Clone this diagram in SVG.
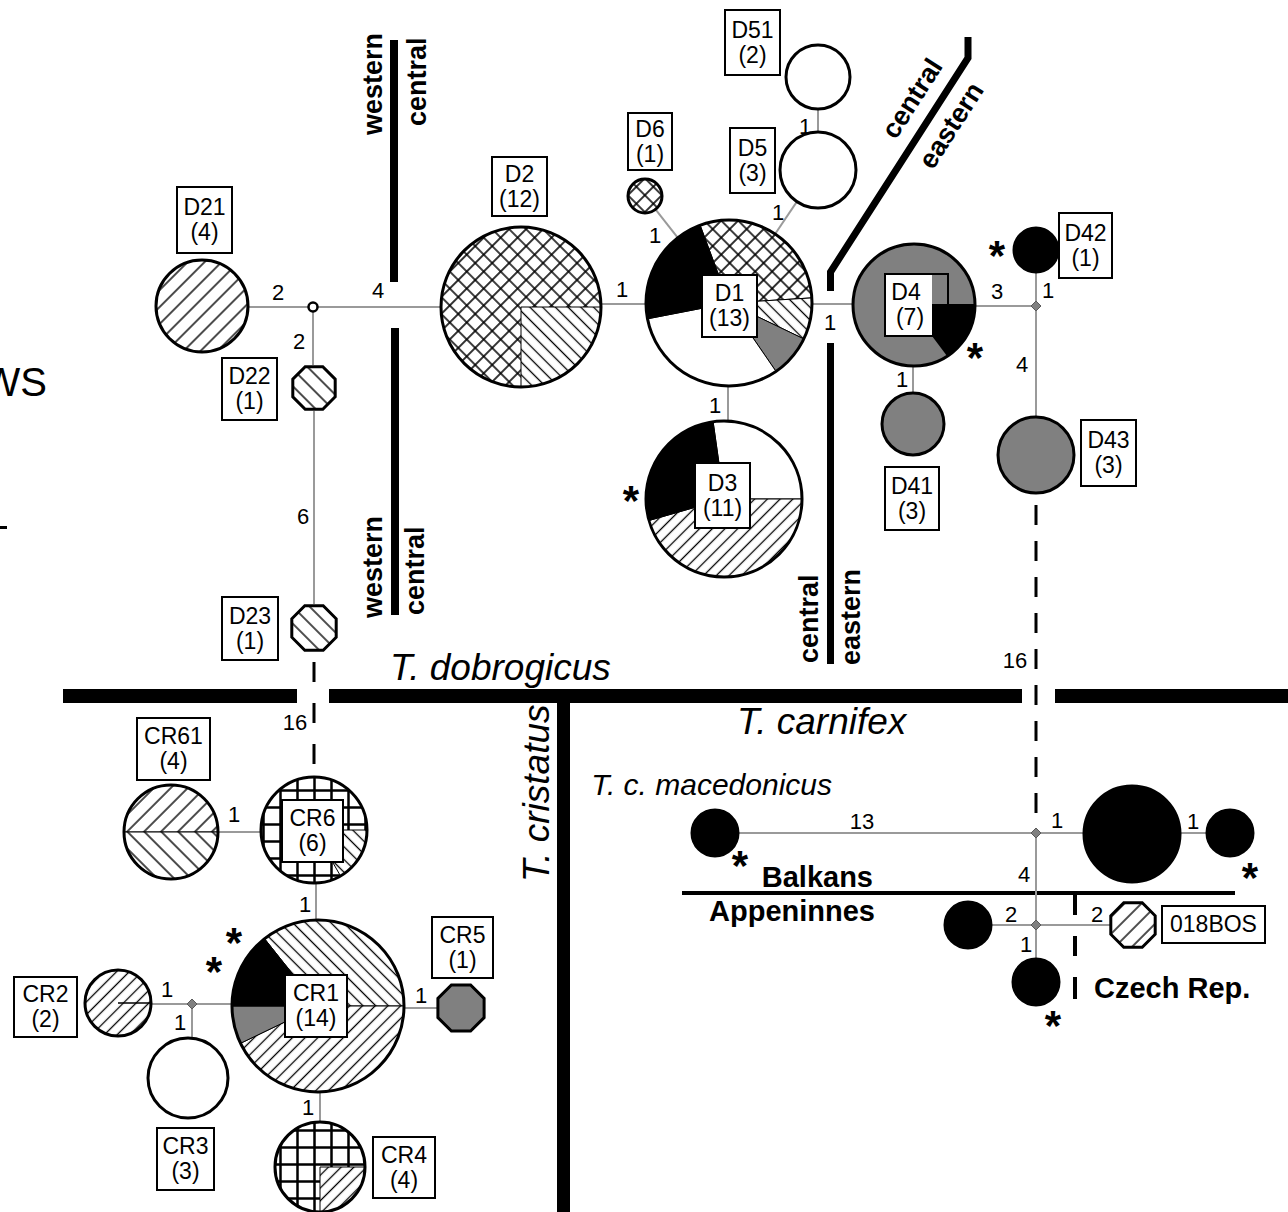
<svg xmlns="http://www.w3.org/2000/svg" width="1288" height="1212" viewBox="0 0 1288 1212">
<defs>
<style>
.c{stroke:#9a9a9a;stroke-width:2;fill:none}
.dsh{stroke:#000;stroke-width:3;fill:none}
.n{stroke:#000;stroke-width:3}
.o{fill:none;stroke:#000;stroke-width:3}
.w{fill:#fff}
.g{fill:#808080}
.k{fill:#000}
.seg{stroke:#000;stroke-width:1}
.box{fill:#fff;stroke:#000;stroke-width:2}
.lbl{font-family:"Liberation Sans",Arial,sans-serif;font-size:23px;text-anchor:middle;fill:#000}
.num{font-family:"Liberation Sans",Arial,sans-serif;font-size:22px;text-anchor:middle;fill:#000}
.ast{font-family:"Liberation Sans",Arial,sans-serif;font-size:42px;font-weight:bold;text-anchor:middle;fill:#000}
.reg{font-family:"Liberation Sans",Arial,sans-serif;font-size:27px;font-weight:bold;fill:#000}
.sp{font-family:"Liberation Sans",Arial,sans-serif;font-style:italic;font-size:37px;fill:#000}
.sub{font-family:"Liberation Sans",Arial,sans-serif;font-style:italic;font-size:30px;fill:#000}
.geo{font-family:"Liberation Sans",Arial,sans-serif;font-weight:bold;font-size:29px;fill:#000}
.bar{fill:#000}
</style>
<pattern id="hF" width="9" height="9" patternUnits="userSpaceOnUse" patternTransform="rotate(-45)"><rect width="9" height="9" fill="#fff"/><line x1="0" y1="4.5" x2="9" y2="4.5" stroke="#000" stroke-width="1.3"/></pattern>
<pattern id="hB" width="9" height="9" patternUnits="userSpaceOnUse" patternTransform="rotate(45)"><rect width="9" height="9" fill="#fff"/><line x1="0" y1="4.5" x2="9" y2="4.5" stroke="#000" stroke-width="1.3"/></pattern>
<pattern id="hF2" width="12" height="12" patternUnits="userSpaceOnUse" patternTransform="rotate(-45)"><rect width="12" height="12" fill="#fff"/><line x1="0" y1="6" x2="12" y2="6" stroke="#000" stroke-width="1.4"/></pattern>
<pattern id="hB2" width="12" height="12" patternUnits="userSpaceOnUse" patternTransform="rotate(45)"><rect width="12" height="12" fill="#fff"/><line x1="0" y1="6" x2="12" y2="6" stroke="#000" stroke-width="1.4"/></pattern>
<pattern id="cx" width="12" height="12" patternUnits="userSpaceOnUse" patternTransform="rotate(45)"><rect width="12" height="12" fill="#fff"/><path d="M0,6H12M6,0V12" stroke="#000" stroke-width="1.6"/></pattern>
<pattern id="gr" width="17" height="17" patternUnits="userSpaceOnUse"><rect width="17" height="17" fill="#fff"/><path d="M0,8.5H17M8.5,0V17" stroke="#000" stroke-width="2.5"/></pattern>
<path id="jd" d="M0,-5L5,0L0,5L-5,0Z" fill="#808080" stroke="#5a5a5a" stroke-width="1"/>
</defs>
<rect width="1288" height="1212" fill="#fff"/>

<!-- cut-off margin text -->
<g id="margin">
<text x="47" y="396" font-family="Liberation Sans, Arial, sans-serif" font-size="40" text-anchor="end">WS</text>
<rect x="0" y="526" width="7" height="3" fill="#000"/>
</g>

<!-- dividers -->
<g id="dividers">
<rect class="bar" x="390" y="40" width="8" height="242"/>
<rect class="bar" x="391" y="328" width="8" height="287"/>
<polyline points="830.5,291 830.5,272 968,58 968,37" fill="none" stroke="#000" stroke-width="7"/>
<rect class="bar" x="827" y="343" width="7" height="321"/>
<rect class="bar" x="63" y="689" width="234" height="14"/>
<rect class="bar" x="329" y="689" width="693" height="14"/>
<rect class="bar" x="1055" y="689" width="233" height="14"/>
<rect class="bar" x="557" y="702" width="13" height="510"/>
<rect class="bar" x="682" y="891" width="553" height="4"/>
<rect class="bar" x="1073" y="894" width="4" height="21"/>
<rect class="bar" x="1073" y="936" width="4" height="20"/>
<rect class="bar" x="1073" y="977" width="4" height="22"/>
<text class="reg" transform="translate(382,135) rotate(-90)">western</text>
<text class="reg" transform="translate(426,126) rotate(-90)">central</text>
<text class="reg" transform="translate(382,618) rotate(-90)">western</text>
<text class="reg" transform="translate(424,615) rotate(-90)">central</text>
<text class="reg" transform="translate(818,663) rotate(-90)">central</text>
<text class="reg" transform="translate(860,665) rotate(-90)">eastern</text>
<text class="reg" text-anchor="middle" transform="translate(913,99) rotate(-57.3)" y="8">central</text>
<text class="reg" text-anchor="middle" transform="translate(952,126) rotate(-57.3)" y="8">eastern</text>
<text class="sp" x="390" y="680">T. dobrogicus</text>
<text class="sp" x="737" y="734">T. carnifex</text>
<text class="sp" transform="translate(549,882) rotate(-90)">T. cristatus</text>
<text class="sub" x="832" y="795" text-anchor="end">T. c. macedonicus</text>
<text class="geo" x="873" y="887" text-anchor="end">Balkans</text>
<text class="geo" x="875" y="921" text-anchor="end">Appeninnes</text>
<text class="geo" x="1094" y="998">Czech Rep.</text>
</g>

<!-- connectors -->
<g id="connectors">
<path class="c" d="M248,307H308"/>
<path class="c" d="M318,307H441"/>
<path class="c" d="M313,312V365"/>
<path class="c" d="M314,411V604"/>
<path class="c" d="M601,304H646"/>
<path class="c" d="M655.5,209.4L677.7,237.7"/>
<path class="c" d="M796.9,201.6L775.1,234"/>
<path class="c" d="M818,109V132"/>
<path class="c" d="M812,304H853"/>
<path class="c" d="M728,386V421"/>
<path class="c" d="M913,366V393"/>
<path class="c" d="M975,306H1032"/>
<path class="c" d="M1036,272V302"/>
<path class="c" d="M1036,310V417"/>
<path class="dsh" d="M1036,505V828" stroke-dasharray="20 16"/>
<path class="dsh" d="M314,662V776" stroke-dasharray="20 21"/>
<path class="c" d="M218,832H261"/>
<path class="c" d="M316,883V921"/>
<path class="c" d="M232,1004H196"/>
<path class="c" d="M188,1004H151"/>
<path class="c" d="M192,1008V1038"/>
<path class="c" d="M404,1008H437"/>
<path class="c" d="M320,1092V1122"/>
<path class="c" d="M738,833H1032"/>
<path class="c" d="M1040,833H1084"/>
<path class="c" d="M1180,833H1207"/>
<path class="c" d="M1036,837V921"/>
<path class="c" d="M1032,925H991"/>
<path class="c" d="M1040,925H1111"/>
<path class="c" d="M1036,929V959"/>
<g id="edge-labels">
<text class="num" x="278" y="300">2</text>
<text class="num" x="378" y="298">4</text>
<text class="num" x="299" y="349">2</text>
<text class="num" x="303" y="524">6</text>
<text class="num" x="622" y="297">1</text>
<text class="num" x="655" y="243">1</text>
<text class="num" x="778" y="220">1</text>
<text class="num" x="805" y="134">1</text>
<text class="num" x="830" y="330">1</text>
<text class="num" x="715" y="413">1</text>
<text class="num" x="902" y="387">1</text>
<text class="num" x="997" y="299">3</text>
<text class="num" x="1048" y="298">1</text>
<text class="num" x="1022" y="372">4</text>
<text class="num" x="1015" y="668">16</text>
<text class="num" x="295" y="730">16</text>
<text class="num" x="234" y="822">1</text>
<text class="num" x="305" y="912">1</text>
<text class="num" x="167" y="997">1</text>
<text class="num" x="180" y="1030">1</text>
<text class="num" x="421" y="1003">1</text>
<text class="num" x="308" y="1115">1</text>
<text class="num" x="862" y="829">13</text>
<text class="num" x="1057" y="828">1</text>
<text class="num" x="1193" y="829">1</text>
<text class="num" x="1024" y="882">4</text>
<text class="num" x="1011" y="922">2</text>
<text class="num" x="1097" y="922">2</text>
<text class="num" x="1026" y="952">1</text>
</g>
</g>

<!-- T. dobrogicus nodes -->
<g id="D21">
<circle cx="202" cy="306" r="46" fill="url(#hF2)" class="n"/>
<rect class="box" x="177" y="187" width="55" height="66"/>
<text class="lbl" x="204.5" y="215">D21</text><text class="lbl" x="204.5" y="240">(4)</text>
</g>
<g id="J1"><circle cx="313" cy="307" r="4.5" fill="#fff" stroke="#000" stroke-width="2.5"/></g>
<g id="D22">
<polygon points="335.2,396.8 322.8,409.2 305.2,409.2 292.8,396.8 292.8,379.2 305.2,366.8 322.8,366.8 335.2,379.2" fill="url(#hB2)" class="n"/>
<rect class="box" x="222" y="358" width="55" height="62"/>
<text class="lbl" x="249.5" y="384">D22</text><text class="lbl" x="249.5" y="409">(1)</text>
</g>
<g id="D23">
<polygon points="336.2,637.2 323.2,650.2 304.8,650.2 291.8,637.2 291.8,618.8 304.8,605.8 323.2,605.8 336.2,618.8" fill="url(#hB2)" class="n"/>
<rect class="box" x="222" y="597" width="56" height="63"/>
<text class="lbl" x="250" y="623.5">D23</text><text class="lbl" x="250" y="648.5">(1)</text>
</g>
<g id="D2">
<circle cx="521" cy="307" r="80" fill="url(#cx)"/>
<path class="seg" d="M521,307L601,307A80,80 0 0 1 521,387Z" fill="url(#hB)"/>
<circle cx="521" cy="307" r="80" class="o"/>
<rect class="box" x="492" y="157" width="55" height="59"/>
<text class="lbl" x="519.5" y="181.5">D2</text><text class="lbl" x="519.5" y="206.5">(12)</text>
</g>
<g id="D6">
<circle cx="645" cy="196" r="17" fill="url(#cx)" class="n"/>
<rect class="box" x="628" y="113" width="44" height="57"/>
<text class="lbl" x="650" y="136.5">D6</text><text class="lbl" x="650" y="161.5">(1)</text>
</g>
<g id="D51">
<circle cx="818" cy="77" r="32" class="n w"/>
<rect class="box" x="725" y="10" width="55" height="65"/>
<text class="lbl" x="752.5" y="37.5">D51</text><text class="lbl" x="752.5" y="62.5">(2)</text>
</g>
<g id="D5">
<circle cx="818" cy="170" r="38" class="n w"/>
<rect class="box" x="730" y="128" width="45" height="65"/>
<text class="lbl" x="752.5" y="155.5">D5</text><text class="lbl" x="752.5" y="180.5">(3)</text>
</g>
<g id="D1">
<path class="seg" d="M729,303L700.1,225.2A83,83 0 0 1 811.8,297.9Z" fill="url(#cx)"/>
<path class="seg" d="M729,303L811.8,297.9A83,83 0 0 1 803.8,338.9Z" fill="url(#hB)"/>
<path class="seg g" d="M729,303L803.8,338.9A83,83 0 0 1 776,371.4Z"/>
<path class="seg w" d="M729,303L776,371.4A83,83 0 0 1 647.5,318.8Z"/>
<path class="seg k" d="M729,303L647.5,318.8A83,83 0 0 1 700.1,225.2Z"/>
<circle cx="729" cy="303" r="83" class="o"/>
<rect class="box" x="702" y="275" width="55" height="62"/>
<text class="lbl" x="729.5" y="301">D1</text><text class="lbl" x="729.5" y="326">(13)</text>
</g>
<g id="D3">
<path class="seg w" d="M724,499L713.1,421.8A78,78 0 0 1 802,499Z"/>
<path class="seg" d="M724,499L802,499A78,78 0 0 1 649,520.5Z" fill="url(#hF)"/>
<path class="seg k" d="M724,499L649,520.5A78,78 0 0 1 713.1,421.8Z"/>
<circle cx="724" cy="499" r="78" class="o"/>
<rect class="box" x="695" y="463" width="55" height="65"/>
<text class="lbl" x="722.5" y="490.5">D3</text><text class="lbl" x="722.5" y="515.5">(11)</text>
<text class="ast" x="631" y="515">*</text>
</g>
<g id="D4">
<circle cx="914" cy="305" r="61" class="g"/>
<path class="k" d="M932,304H975A61,61 0 0 1 947,356L932,336Z"/>
<rect x="885" y="274" width="47" height="62" fill="#fff"/>
<rect x="885" y="274" width="63" height="62" fill="none" stroke="#000" stroke-width="2"/>
<circle cx="914" cy="305" r="61" class="o"/>
<text class="lbl" x="906" y="300">D4</text><text class="lbl" x="910" y="325">(7)</text>
<text class="ast" x="975" y="372">*</text>
</g>
<g id="D41">
<circle cx="913" cy="424" r="31" class="n g"/>
<rect class="box" x="885" y="467" width="54" height="63"/>
<text class="lbl" x="912" y="493.5">D41</text><text class="lbl" x="912" y="518.5">(3)</text>
</g>
<g id="J2"><use href="#jd" x="1036" y="306"/></g>
<g id="D42">
<circle cx="1036" cy="250" r="22" class="n k"/>
<rect class="box" x="1059" y="213" width="53" height="65"/>
<text class="lbl" x="1085.5" y="240.5">D42</text><text class="lbl" x="1085.5" y="265.5">(1)</text>
<text class="ast" x="997" y="270">*</text>
</g>
<g id="D43">
<circle cx="1036" cy="455" r="38" class="n g"/>
<rect class="box" x="1081" y="420" width="55" height="66"/>
<text class="lbl" x="1108.5" y="448">D43</text><text class="lbl" x="1108.5" y="473">(3)</text>
</g>

<!-- T. cristatus nodes -->
<g id="CR61">
<path class="seg" d="M124,832A47,47 0 0 1 218,832Z" fill="url(#hF2)"/>
<path class="seg" d="M218,832A47,47 0 0 1 124,832Z" fill="url(#hB2)"/>
<circle cx="171" cy="832" r="47" class="o"/>
<rect class="box" x="137" y="718" width="73" height="62"/>
<text class="lbl" x="173.5" y="744">CR61</text><text class="lbl" x="173.5" y="769">(4)</text>
</g>
<g id="CR6">
<circle cx="314" cy="830" r="53" fill="url(#gr)"/>
<path class="seg" d="M314,830L367,830A53,53 0 0 1 340.5,875.9Z" fill="url(#hB)"/>
<circle cx="314" cy="830" r="53" class="o"/>
<rect class="box" x="282" y="800" width="61" height="62"/>
<text class="lbl" x="312.5" y="826">CR6</text><text class="lbl" x="312.5" y="851">(6)</text>
</g>
<g id="CR1">
<path class="seg" d="M318,1006L264.5,938.7A86,86 0 0 1 404,1006Z" fill="url(#hB)"/>
<path class="seg" d="M318,1006L404,1006A86,86 0 0 1 240.5,1043.3Z" fill="url(#hF)"/>
<path class="seg g" d="M318,1006L240.5,1043.3A86,86 0 0 1 232,1006Z"/>
<path class="seg k" d="M318,1006L232,1006A86,86 0 0 1 264.5,938.7Z"/>
<circle cx="318" cy="1006" r="86" class="o"/>
<rect class="box" x="285" y="975" width="62" height="62"/>
<text class="lbl" x="316" y="1001">CR1</text><text class="lbl" x="316" y="1026">(14)</text>
<text class="ast" x="234" y="957">*</text>
<text class="ast" x="214" y="986">*</text>
</g>
<g id="J4"><use href="#jd" x="192" y="1004"/></g>
<g id="CR2">
<circle cx="118" cy="1003" r="33" fill="url(#hF)"/>
<path d="M118,1003H150" stroke="#000" stroke-width="1.5"/>
<circle cx="118" cy="1003" r="33" class="o"/>
<rect class="box" x="14" y="977" width="63" height="60"/>
<text class="lbl" x="45.5" y="1002">CR2</text><text class="lbl" x="45.5" y="1027">(2)</text>
</g>
<g id="CR3">
<circle cx="188" cy="1078" r="40" class="n w"/>
<rect class="box" x="157" y="1128" width="57" height="62"/>
<text class="lbl" x="185.5" y="1154">CR3</text><text class="lbl" x="185.5" y="1179">(3)</text>
</g>
<g id="CR5">
<polygon points="484.1,1017.6 470.6,1031.1 451.4,1031.1 437.9,1017.6 437.9,998.4 451.4,984.9 470.6,984.9 484.1,998.4" class="n g"/>
<rect class="box" x="432" y="917" width="61" height="61"/>
<text class="lbl" x="462.5" y="942.5">CR5</text><text class="lbl" x="462.5" y="967.5">(1)</text>
</g>
<g id="CR4">
<circle cx="320" cy="1167" r="45" fill="url(#gr)"/>
<path class="seg" d="M320,1167L365,1167A45,45 0 0 1 320,1212Z" fill="url(#hF)"/>
<circle cx="320" cy="1167" r="45" class="o"/>
<rect class="box" x="373" y="1137" width="62" height="61"/>
<text class="lbl" x="404" y="1162.5">CR4</text><text class="lbl" x="404" y="1187.5">(4)</text>
</g>

<!-- T. carnifex nodes -->
<g id="TCM1">
<circle cx="715" cy="833" r="23" class="n k"/>
<text class="ast" x="740" y="880">*</text>
</g>
<g id="J3"><use href="#jd" x="1036" y="833"/></g>
<g id="TC-main"><circle cx="1132" cy="834" r="48" class="n k"/></g>
<g id="TC-right">
<circle cx="1230" cy="833" r="23" class="n k"/>
<text class="ast" x="1250" y="892">*</text>
</g>
<g id="J5"><use href="#jd" x="1036" y="925"/></g>
<g id="TC-app1"><circle cx="968" cy="925" r="23" class="n k"/></g>
<g id="TC-app2">
<circle cx="1036" cy="982" r="23" class="n k"/>
<text class="ast" x="1053" y="1040">*</text>
</g>
<g id="BOS018">
<polygon points="1155.2,934.2 1142.2,947.2 1123.8,947.2 1110.8,934.2 1110.8,915.8 1123.8,902.8 1142.2,902.8 1155.2,915.8" fill="url(#hF2)" class="n"/>
<rect class="box" x="1162" y="906" width="103" height="37"/>
<text class="lbl" x="1213.5" y="932">018BOS</text>
</g>
</svg>
